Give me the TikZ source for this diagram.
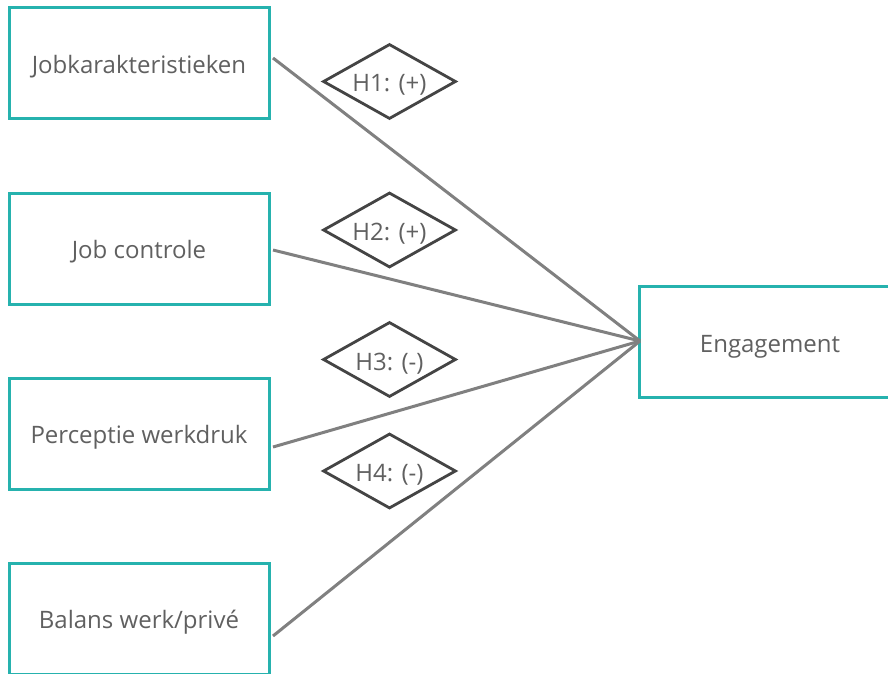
\documentclass[tikz,border=0pt]{standalone}
\usepackage{fontspec}
\setmainfont{Open Sans}
\usetikzlibrary{shapes.geometric}
\definecolor{teal}{HTML}{26B2AE}
\definecolor{txt}{HTML}{606060}
\definecolor{conn}{HTML}{808080}
\definecolor{dia}{HTML}{444444}
\tikzset{
  box/.style={draw=teal, line width=3pt, fill=white, minimum width=260pt, minimum height=111pt, text=txt, font=\fontsize{24}{28}\selectfont, inner sep=0pt, text height=20.5pt, text depth=0pt},
  hyp/.style={draw=dia, line width=2.8pt, diamond, minimum width=133pt, minimum height=75pt, text=txt, font=\fontsize{24}{28}\selectfont, inner sep=0pt, aspect=1.77, text height=21pt, text depth=0pt},
  link/.style={draw=conn, line width=3pt}
}
\begin{document}
\begin{tikzpicture}[x=1pt,y=-1pt]
\useasboundingbox (0,0) rectangle (888,674);
\clip (0,0) rectangle (888,674);
\fill[white] (0,0) rectangle (888,674);
\node[box] (b1) at (139,63) {Jobkarakteristieken};
\node[box] (b2) at (139,248.5) {Job controle};
\node[box] (b3) at (139,433.5) {Perceptie werkdruk};
\node[box] (b4) at (139,618.5) {Balans werk/privé};
\node[box, minimum width=262pt, text height=21pt] (eng) at (770,341.5) {Engagement};
\coordinate (t) at (640,341);
\coordinate (s1) at (273,58);
\coordinate (s2) at (273,250);
\coordinate (s3) at (273,447);
\coordinate (s4) at (273,636);
\draw[link] (s1) -- (t);
\draw[link] (s2) -- (t);
\draw[link] (s3) -- (t);
\draw[link] (s4) -- (t);
\node[hyp] (h1) at (389.5,81.5) {H1: (+)};
\node[hyp] (h2) at (389.5,230) {H2: (+)};
\node[hyp] (h3) at (389.5,359.5) {H3: (-)};
\node[hyp] (h4) at (389.5,471) {H4: (-)};
\end{tikzpicture}
\end{document}
